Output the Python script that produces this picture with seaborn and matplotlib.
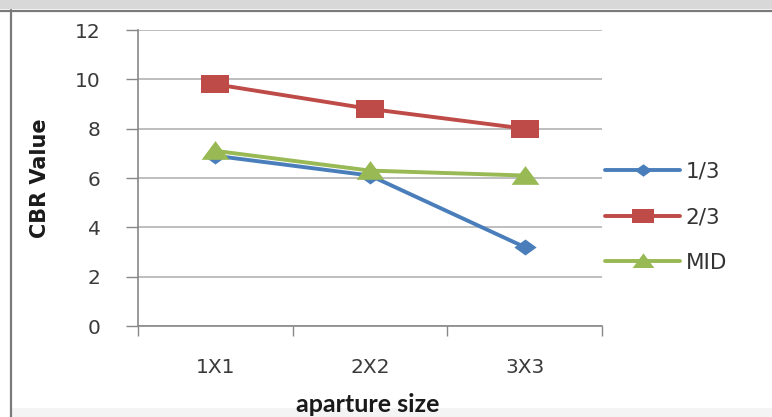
import matplotlib
matplotlib.use("Agg")
import matplotlib.pyplot as plt
from matplotlib.patches import Rectangle
import seaborn as sns
import pandas as pd

# Chart data
categories = ["1X1", "2X2", "3X3"]
series_names = ["1/3", "2/3", "MID"]
values_one_third = [6.9, 6.1, 3.2]
values_two_third = [9.8, 8.8, 8.0]
values_mid = [7.1, 6.3, 6.1]
y_ticks = [0, 2, 4, 6, 8, 10, 12]

colors = {"1/3": "#4A7EBB", "2/3": "#BE4B48", "MID": "#98B954"}
# wide, flat marker shapes
markers = {
    "1/3": [(-1, 0), (0, 0.72), (1, 0), (0, -0.72), (-1, 0)],
    "2/3": [(-1, -0.68), (1, -0.68), (1, 0.68), (-1, 0.68), (-1, -0.68)],
    "MID": [(-1, -0.6), (1, -0.6), (0, 0.75), (-1, -0.6)],
}
marker_sizes = {"1/3": 16, "2/3": 20, "MID": 20}

df = pd.DataFrame({
    "aparture size": categories * 3,
    "CBR Value": values_one_third + values_two_third + values_mid,
    "series": [series_names[0]] * 3 + [series_names[1]] * 3 + [series_names[2]] * 3,
})
df["x"] = df["aparture size"].map({c: i for i, c in enumerate(categories)})

sns.set_style("white")
plt.rcParams["font.family"] = ["DejaVu Sans"]

W, H = 772, 417
fig = plt.figure(figsize=(W / 100, H / 100), dpi=100)
fig.patch.set_facecolor("white")

# outer frame of the chart area
fig.add_artist(Rectangle((0, 1 - 9 / H), 1, 9 / H, transform=fig.transFigure,
                         facecolor="#d8d8d8", edgecolor="none", zorder=0))
fig.add_artist(Rectangle((11 / W, 0), 1, 9 / H, transform=fig.transFigure,
                         facecolor="#f4f4f4", edgecolor="none", zorder=0))
fig.add_artist(plt.Line2D([0, 1], [1 - 10.5 / H, 1 - 10.5 / H], transform=fig.transFigure,
                          color="#7a7a7a", lw=1.6))
fig.add_artist(plt.Line2D([10.5 / W, 10.5 / W], [0, 1 - 10 / H], transform=fig.transFigure,
                          color="#7a7a7a", lw=1.6))

left, right, top, bottom = 138, 602, 30, 326
ax = fig.add_axes([left / W, 1 - bottom / H, (right - left) / W, (bottom - top) / H])

for name in series_names:
    sub = df[df["series"] == name]
    sns.lineplot(data=sub, x="x", y="CBR Value", ax=ax, color=colors[name],
                 marker=markers[name], markersize=marker_sizes[name],
                 markeredgewidth=0, linewidth=2.8, label=name, zorder=3)

ax.set_xlim(-0.5, 2.5)
ax.set_ylim(0, 12)
ax.set_yticks(y_ticks)
ax.set_yticklabels([str(t) for t in y_ticks], fontsize=14.5, color="#3a3a3a")
ax.set_xticks(range(len(categories)))
ax.set_xticklabels(categories, fontsize=14.5, color="#3a3a3a")
ax.tick_params(axis="x", length=0, pad=23)
ax.tick_params(axis="y", length=9, width=1, color="#888888", direction="out", pad=18, left=True)

# category boundary ticks on the x axis
ax.set_xticks([-0.5, 0.5, 1.5, 2.5], minor=True)
ax.tick_params(axis="x", which="minor", length=7, width=1, color="#888888", direction="out", bottom=True)

ax.grid(axis="y", color="#b3b3b3", linewidth=1.2)
ax.grid(axis="x", visible=False)
ax.set_axisbelow(True)
for s in ["top", "right"]:
    ax.spines[s].set_visible(False)
for s in ["left", "bottom"]:
    ax.spines[s].set_color("#888888")
    ax.spines[s].set_linewidth(1.2)

ax.set_xlabel("aparture size", fontsize=18, fontweight="bold", family="Lato", color="#1a1a1a")
ax.xaxis.set_label_coords(0.496, -0.265)
ax.xaxis.label.set_va("center")
ax.set_ylabel("CBR Value", fontsize=15, fontweight="bold", family="Liberation Sans Narrow",
              color="#1a1a1a")
ax.yaxis.set_label_coords(-0.211, 0.5)
ax.yaxis.label.set_va("center")

leg = ax.legend(loc="center left", bbox_to_anchor=(0.988, 0.368), frameon=False,
                fontsize=15.5, handlelength=3.5, labelspacing=1.2, handletextpad=0.25,
                borderaxespad=0)
for t in leg.get_texts():
    t.set_color("#333333")
for h, name in zip(leg.legend_handles, series_names):
    h.set_markersize(marker_sizes[name] * 0.78)

fig.savefig("out.png", dpi=100)
